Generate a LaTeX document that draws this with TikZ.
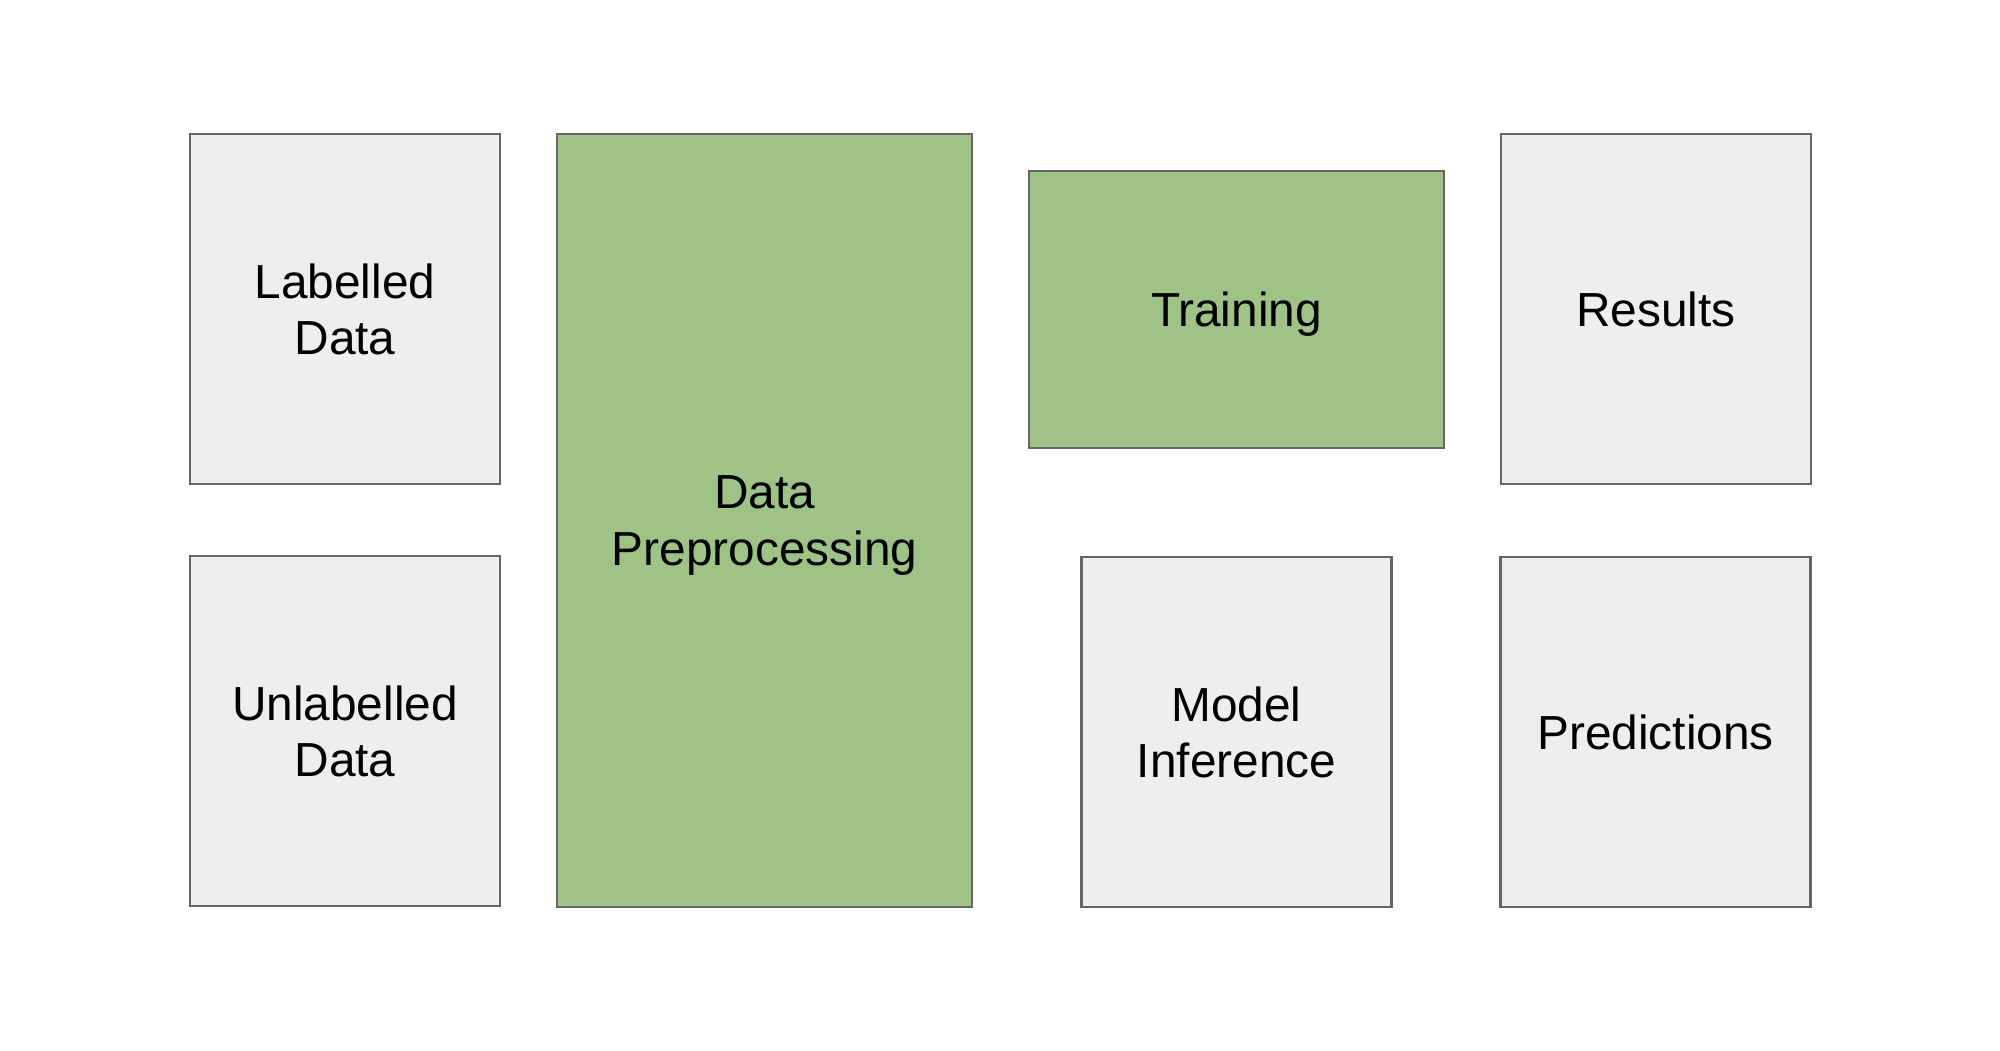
\documentclass[tikz,border=0pt]{standalone}
\usepackage{fontspec}
\setmainfont{Liberation Sans}
\usetikzlibrary{positioning}
\definecolor{boxgray}{HTML}{EEEEEE}
\definecolor{boxgreen}{HTML}{9FC386}
\definecolor{edgegray}{HTML}{666666}
\begin{document}
\begin{tikzpicture}
\tikzstyle{block}=[rectangle, draw=edgegray, line width=0.6pt, align=center, font=\fontsize{13.6}{16.1}\selectfont, inner sep=0pt, outer sep=0pt, text depth=0pt]
\tikzstyle{plain}=[block, fill=boxgray, minimum width=3.1cm, minimum height=3.5cm]
\tikzstyle{stage}=[block, fill=boxgreen, minimum width=4.15cm]
    \useasboundingbox (0,0) rectangle (20,-10.5);
    \node[plain, anchor=north west] (labelled) at (1.9,-1.34) {Labelled\\Data};
    \node[plain] (unlabelled) [below=0.72 of labelled] {Unlabelled\\Data};
    \node[stage, minimum height=7.73cm, anchor=north west] (prep) at ([xshift=0.57cm]labelled.north east) {Data\\Preprocessing};
    \node[stage, minimum height=2.77cm, anchor=north west] (training) at ([xshift=0.57cm, yshift=-0.37cm]prep.north east) {Training};
    \node[plain, anchor=north west] (results) at ([xshift=0.57cm]training.east |- prep.north) {Results};
    \node[plain] (inference) [below=1.09 of training] {Model\\Inference};
    \node[plain] (predictions) [right=1.09 of inference] {Predictions};
\end{tikzpicture}
\end{document}
